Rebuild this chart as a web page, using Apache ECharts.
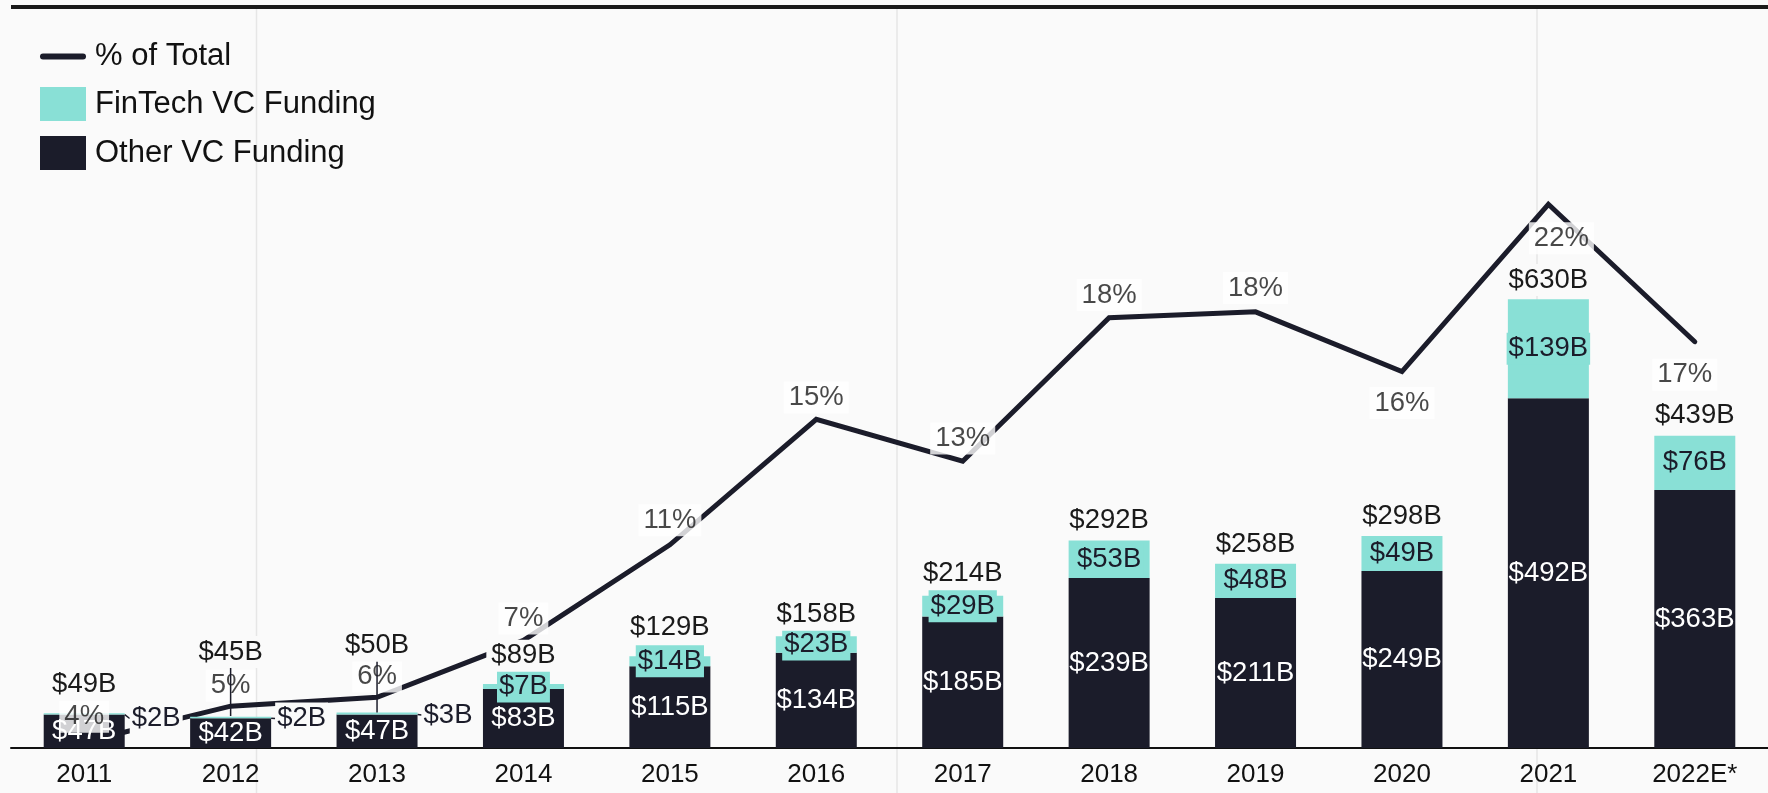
<!DOCTYPE html>
<html>
<head>
<meta charset="utf-8">
<script src="https://cdn.jsdelivr.net/npm/echarts@6/dist/echarts.min.js"></script>
<style>
html,body{margin:0;padding:0;background:#fafafa;}
#chart{width:1768px;height:793px;}
</style>
</head>
<body>
<div id="chart"></div>
<script>
// ---- data ----
const years = ['2011','2012','2013','2014','2015','2016','2017','2018','2019','2020','2021','2022E*'];
const otherVC = [47, 42, 47, 83, 115, 134, 185, 239, 211, 249, 492, 363];
const fintechVC = [2, 2, 3, 7, 14, 23, 29, 53, 48, 49, 139, 76];
const totalVC = [49, 45, 50, 89, 129, 158, 214, 292, 258, 298, 630, 439];
const pctOfTotal = [4.0, 5.2, 5.5, 7.4, 10.6, 14.8, 13.4, 18.2, 18.4, 16.4, 22.0, 17.4];
const pctLabels = ['4%','5%','6%','7%','11%','15%','13%','18%','18%','16%','22%','17%'];

// ---- label layout tweaks (by index) ----
const finLabelShift = {0:[72,4.6], 1:[71,1], 2:[71,1.5]};
const totalLabelShift = {0:[0,-9], 1:[0,-44], 2:[0,-47], 3:[0,-9], 4:[0,-9], 5:[0,-1], 6:[0,-2]};
const pctLabelShift = {0:[0,-3.4], 1:[0,1.5], 2:[0,1.4], 4:[0,-2.6], 6:[0,-0.8], 7:[0,-0.8], 8:[0,-1.8], 9:[0,53.5], 10:[13,56], 11:[-10,55]};

const DARK = '#1b1c2a';
const TEAL = '#89e0d6';
const BG = '#fafafa';
const FONT = 'Liberation Sans';
const LABEL_SIZE = 27.5;

function shiftFn(map){
  return function(p){
    const s = map[p.dataIndex];
    return s ? {dx: s[0], dy: s[1]} : {};
  };
}
const money = v => '$' + v + 'B';

const chart = echarts.init(document.getElementById('chart'));
chart.setOption({
  animation: false,
  backgroundColor: BG,
  textStyle: {fontFamily: FONT},
  grid: {left: 11, right: -13, top: 37, bottom: 45, containLabel: false},
  legend: {
    orient: 'vertical', left: 40, top: 41, padding: 0,
    itemWidth: 46, itemHeight: 34, itemGap: 15,
    textStyle: {fontSize: 31, color: '#111', fontFamily: FONT, padding: [0,0,0,4]},
    data: [
      {name: '% of Total', icon: 'path://M3,0 H43 A3,3 0 0 1 43,6 H3 A3,3 0 0 1 3,0 Z'},
      {name: 'FinTech VC Funding', icon: 'rect'},
      {name: 'Other VC Funding', icon: 'rect'}
    ]
  },
  graphic: [
    {type: 'rect', left: 11, top: 5, z: 0, shape: {width: 1757, height: 4}, style: {fill: '#1a1a1a'}},
    {type: 'line', z: -1, shape: {x1: 256.5, y1: 9, x2: 256.5, y2: 793}, style: {stroke: '#e6e6e6', lineWidth: 1.5}},
    {type: 'line', z: -1, shape: {x1: 897, y1: 9, x2: 897, y2: 793}, style: {stroke: '#e6e6e6', lineWidth: 1.5}},
    {type: 'line', z: -1, shape: {x1: 1537, y1: 9, x2: 1537, y2: 793}, style: {stroke: '#e6e6e6', lineWidth: 1.5}}
  ],
  xAxis: {
    type: 'category', data: years,
    axisLine: {show: true, lineStyle: {color: '#111', width: 2}},
    axisTick: {show: false},
    axisLabel: {fontSize: 26, color: '#111', margin: 14, fontFamily: FONT},
    splitLine: {show: false}
  },
  yAxis: [
    {type: 'value', min: 0, max: 1000, show: false},
    {type: 'value', min: 3.8, max: 27.6, show: false}
  ],
  series: [
    {
      name: '% of Total', type: 'line', yAxisIndex: 1, z: 1,
      data: pctOfTotal, symbol: 'none', color: DARK,
      lineStyle: {color: DARK, width: 5, cap: 'round', join: 'miter'},
      silent: true
    },
    {
      name: 'Other VC Funding', type: 'bar', stack: 'vc', z: 2,
      barWidth: 81, barGap: '-100%',
      data: otherVC, itemStyle: {color: DARK},
      label: {show: true, position: 'inside', color: '#fff', fontSize: LABEL_SIZE, fontFamily: FONT,
        formatter: p => money(p.value)},
      silent: true
    },
    {
      name: 'FinTech VC Funding', type: 'bar', stack: 'vc', z: 2,
      barWidth: 81, barGap: '-100%',
      data: fintechVC.map((v, i) => finLabelShift[i]
        ? {value: v, label: {backgroundColor: BG}, labelLine: {show: true}}
        : v),
      itemStyle: {color: TEAL},
      label: {show: true, position: 'inside', color: DARK, fontSize: LABEL_SIZE, fontFamily: FONT,
        lineHeight: 26, padding: [3,2], backgroundColor: TEAL,
        formatter: p => money(p.value)},
      labelLine: {show: false, lineStyle: {color: DARK, width: 1.5}},
      labelLayout: shiftFn(finLabelShift),
      silent: true
    },
    {
      name: 'pctLabels', type: 'scatter', yAxisIndex: 1, z: 3,
      data: pctOfTotal, symbol: 'circle', symbolSize: 1,
      itemStyle: {color: 'rgba(0,0,0,0)'},
      label: {show: true, position: 'top', distance: 5.5, color: '#1a1a1a', fontSize: LABEL_SIZE, fontFamily: FONT,
        lineHeight: 26, padding: [3,5], backgroundColor: '#ffffff',
        formatter: p => pctLabels[p.dataIndex]},
      labelLayout: shiftFn(pctLabelShift),
      silent: true
    },
    {
      name: 'Total', type: 'bar', z: 4,
      barWidth: 81, barGap: '-100%',
      data: totalVC.map((v, i) => (i === 1 || i === 2) ? {value: v, labelLine: {show: true}} : v),
      itemStyle: {color: 'rgba(0,0,0,0)'},
      label: {show: true, position: 'top', distance: 4, color: '#1a1a1a', fontSize: LABEL_SIZE, fontFamily: FONT,
        lineHeight: 26, padding: [3,5], backgroundColor: BG,
        formatter: p => money(totalVC[p.dataIndex])},
      labelLine: {show: false, lineStyle: {color: DARK, width: 1.5}},
      labelLayout: shiftFn(totalLabelShift),
      silent: true
    }
  ]
});
</script>
</body>
</html>
